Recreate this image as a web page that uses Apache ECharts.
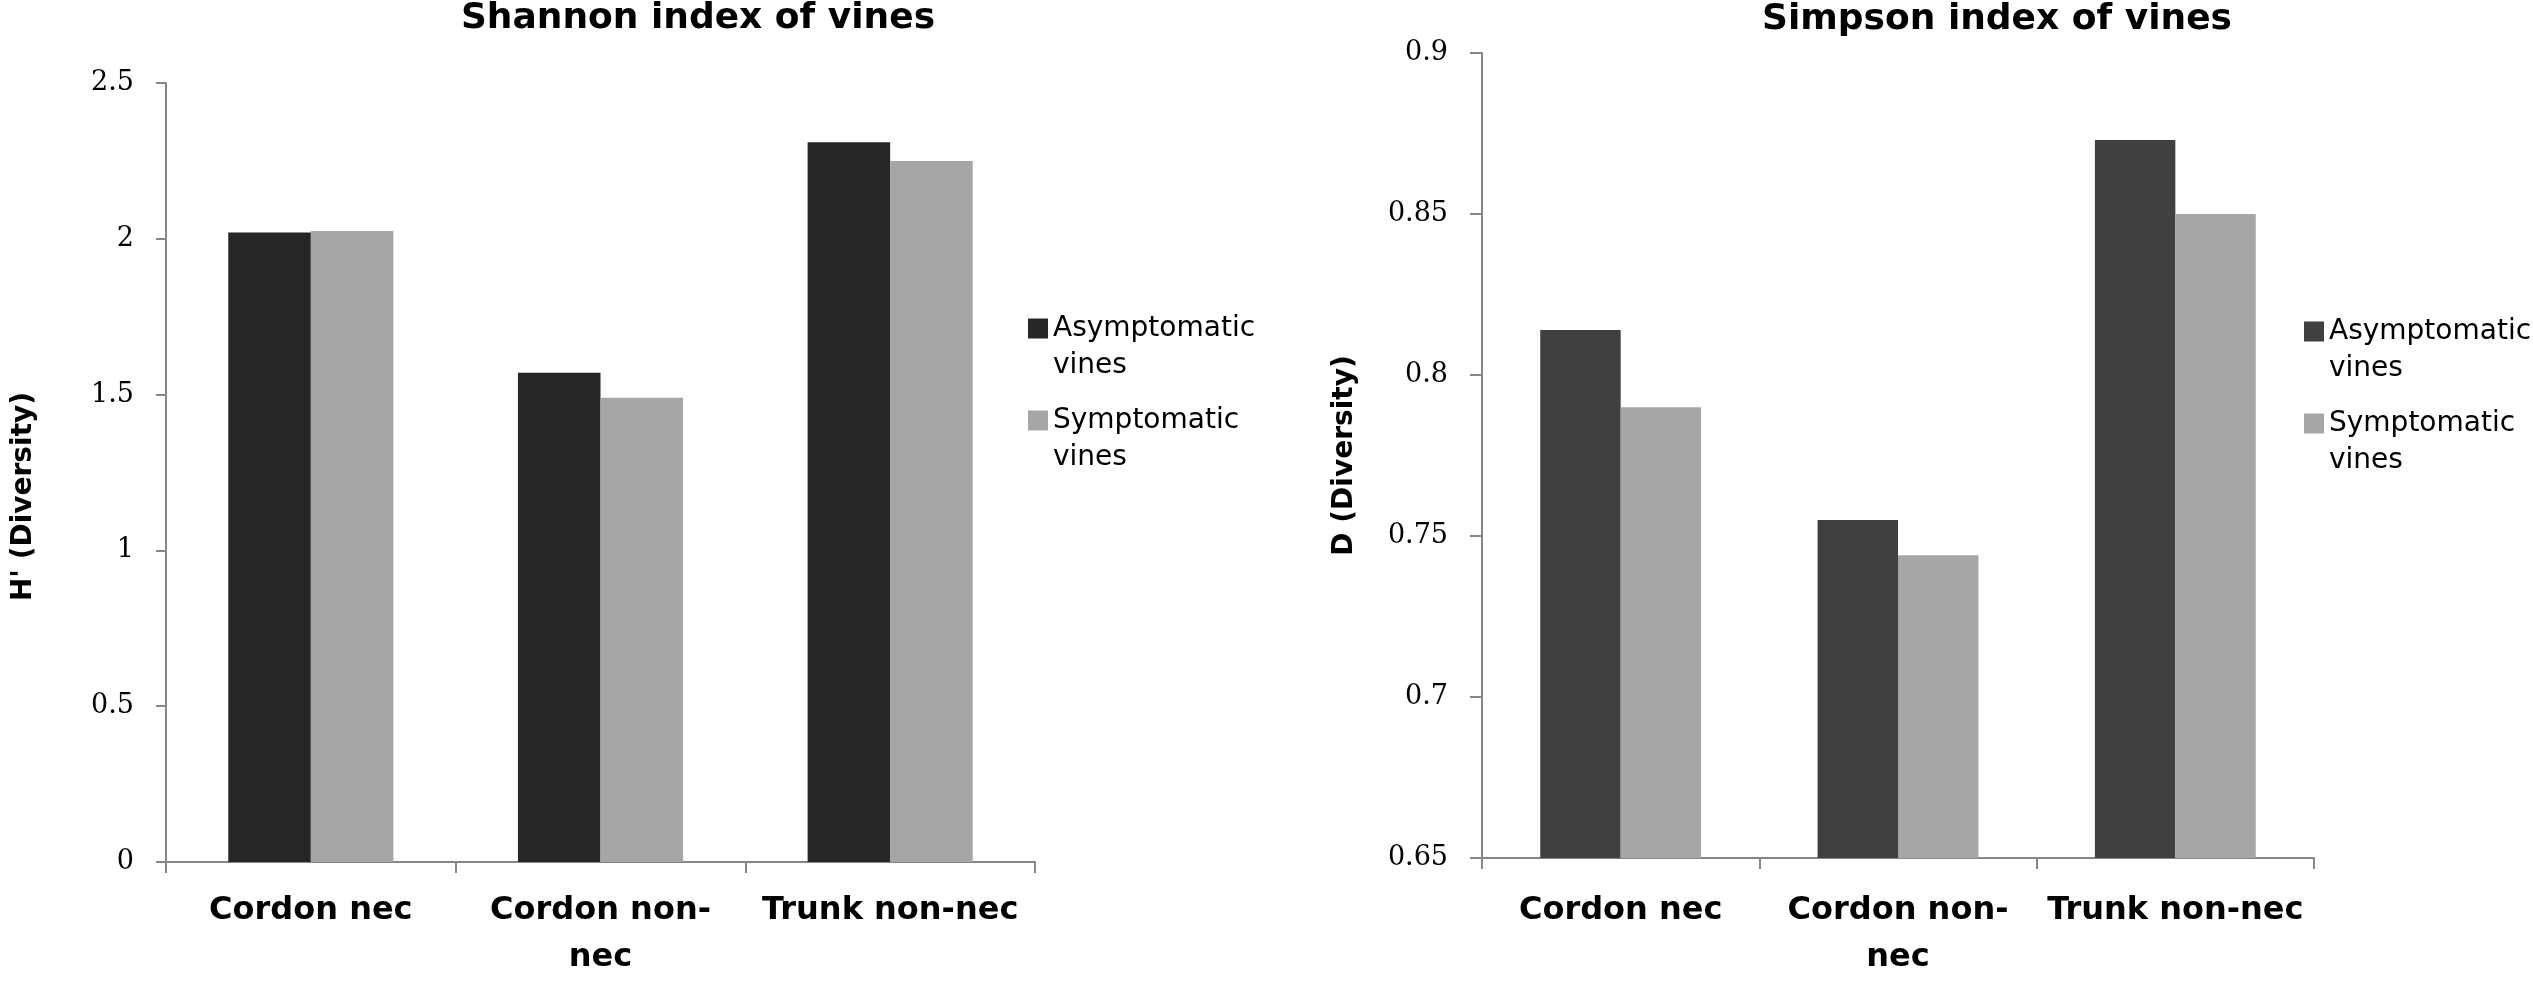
<!DOCTYPE html>
<html>
<head>
<meta charset="utf-8">
<title>Shannon and Simpson index of vines</title>
<script src="https://cdn.jsdelivr.net/npm/echarts@6/dist/echarts.min.js"></script>
<style>
  html, body { margin: 0; padding: 0; background: #fff; }
  #main { width: 2533px; height: 981px; }
</style>
</head>
<body>
<div id="main"></div>
<script>
// data
const categories = ['Cordon nec', 'Cordon non-nec', 'Trunk non-nec'];
const seriesNames = ['Asymptomatic vines', 'Symptomatic vines'];
const shannonAsym = [2.02, 1.57, 2.31];
const shannonSym = [2.025, 1.49, 2.25];
const simpsonAsym = [0.814, 0.755, 0.873];
const simpsonSym = [0.790, 0.744, 0.850];
const shannonTicks = { min: 0, max: 2.5, interval: 0.5 };
const simpsonTicks = { min: 0.65, max: 0.9, interval: 0.05 };

// Excel wrapped this one after the hyphen
const wrapped = { 'Cordon non-nec': 'Cordon non-\nnec' };

const axisColor = '#868686';
const lightGrey = '#a6a6a6';

function xAxisFor(gridIndex, margin) {
  return {
    type: 'category',
    gridIndex: gridIndex,
    data: categories,
    axisLine: { lineStyle: { color: axisColor, width: 2 } },
    axisTick: { show: true, length: 11, lineStyle: { color: axisColor, width: 2 } },
    axisLabel: {
      interval: 0,
      margin: margin,
      color: '#000',
      fontFamily: 'DejaVu Sans',
      fontWeight: 'bold',
      fontSize: 32,
      lineHeight: 47,
      formatter: function (v) { return wrapped[v] || v; }
    }
  };
}

function yAxisFor(gridIndex, ticks, name, nameGap, tickLen, labelMargin, namePad) {
  return {
    type: 'value',
    gridIndex: gridIndex,
    min: ticks.min,
    max: ticks.max,
    interval: ticks.interval,
    splitLine: { show: false },
    axisLine: { show: true, lineStyle: { color: axisColor, width: 2 } },
    axisTick: { show: true, length: tickLen, lineStyle: { color: axisColor, width: 2 } },
    axisLabel: {
      margin: labelMargin,
      color: '#000',
      fontFamily: 'DejaVu Serif',
      fontSize: 27
    },
    name: name,
    nameLocation: 'middle',
    nameRotate: 90,
    nameGap: nameGap,
    nameTextStyle: {
      color: '#000',
      fontFamily: 'DejaVu Sans',
      fontWeight: 'bold',
      fontSize: 28,
      padding: namePad
    }
  };
}

// legend text: empty first line so the swatch sits level with the first word
function legendFor(left, top, darkColor) {
  return {
    orient: 'vertical',
    left: left,
    top: top,
    padding: 0,
    icon: 'rect',
    itemWidth: 20,
    itemHeight: 20,
    itemGap: -19,
    formatter: function (name) { return '\n' + name.replace(' ', '\n'); },
    textStyle: {
      color: '#000',
      fontFamily: 'DejaVu Sans',
      fontSize: 28,
      lineHeight: 37
    },
    data: [
      { name: seriesNames[0], itemStyle: { color: darkColor } },
      { name: seriesNames[1], itemStyle: { color: lightGrey } }
    ]
  };
}

function barSeries(name, idx, data, color, gap) {
  return {
    type: 'bar',
    name: name,
    xAxisIndex: idx,
    yAxisIndex: idx,
    data: data,
    barGap: '0%',
    barCategoryGap: gap,
    itemStyle: { color: color },
    emphasis: { disabled: true }
  };
}

const titleStyle = { color: '#000', fontFamily: 'DejaVu Sans', fontWeight: 'bold', fontSize: 36 };

const chart = echarts.init(document.getElementById('main'), null, { renderer: 'canvas' });
chart.setOption({
  backgroundColor: '#fff',
  animation: false,
  title: [
    { text: 'Shannon index of vines', left: 698, top: 1, padding: 0, textAlign: 'center', textStyle: titleStyle },
    { text: 'Simpson index of vines', left: 1997, top: 2, padding: 0, textAlign: 'center', textStyle: titleStyle }
  ],
  legend: [
    legendFor(1028, 273, '#262626'),
    legendFor(2304, 276, '#404040')
  ],
  grid: [
    { left: 166, top: 83, width: 869, height: 791 },
    { left: 1482, top: 53, width: 832, height: 816 }
  ],
  xAxis: [xAxisFor(0, 25), xAxisFor(1, 29)],
  yAxis: [
    yAxisFor(0, shannonTicks, "H' (Diversity)", 128, 10, 32, [0, 48, 0, 0]),
    yAxisFor(1, simpsonTicks, 'D (Diversity)', 123, 12, 34, 0)
  ],
  series: [
    barSeries(seriesNames[0], 0, shannonAsym, '#262626', '43%'),
    barSeries(seriesNames[1], 0, shannonSym, lightGrey, '43%'),
    barSeries(seriesNames[0], 1, simpsonAsym, '#404040', '42%'),
    barSeries(seriesNames[1], 1, simpsonSym, lightGrey, '42%')
  ]
});
</script>
</body>
</html>
